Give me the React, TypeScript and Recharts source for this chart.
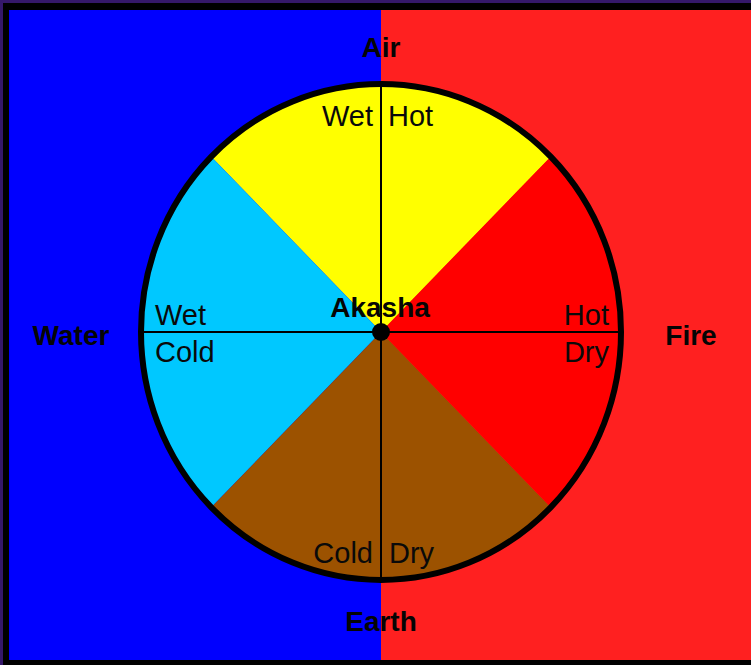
import React from 'react';
import { PieChart, Pie, Cell } from 'recharts';

// Four classical elements, each taking an equal quarter of the wheel
const elements = ['Air', 'Water', 'Earth', 'Fire'];
const shares = [1, 1, 1, 1];
const sliceColors = ['#ffff00', '#00c8ff', '#9c5200', '#ff0000'];

// qualities shown inside the wheel
const qualityLabels = ['Wet', 'Hot', 'Wet', 'Cold', 'Hot', 'Dry', 'Cold', 'Dry'];
const centerLabel = 'Akasha';

const data = elements.map((name, i) => ({ name, value: shares[i] }));

const W = 751;
const H = 665;
const CX = 381;
const CY = 332;
const RX = 240;
const RY = 248;

const FONT = '"Liberation Sans", Arial, sans-serif';

export default function App() {
  const bold = { fontFamily: FONT, fontWeight: 700, fontSize: 28, fill: '#050505' } as const;
  const reg = { fontFamily: FONT, fontWeight: 400, fontSize: 29, fill: '#0a0a0a' } as const;
  return (
    <div style={{ position: 'absolute', left: 0, top: 0, width: W, height: H, background: '#35186a', overflow: 'hidden' }}>
      <div style={{ position: 'absolute', left: 3, top: 3, right: 0, bottom: 0, background: '#000' }} />
      <div style={{ position: 'absolute', left: 9, top: 10, width: CX - 9, height: 650, background: '#0000ff' }} />
      <div style={{ position: 'absolute', left: CX, top: 10, width: W - CX, height: 650, background: '#ff2020' }} />
      <div
        style={{
          position: 'absolute',
          left: 0,
          top: 0,
          width: W,
          height: H,
          transform: `scale(1, ${RY / RX})`,
          transformOrigin: `${CX}px ${CY}px`,
        }}
      >
        <PieChart width={W} height={H} margin={{ top: 0, right: 0, bottom: 0, left: 0 }}>
          <Pie
            data={data}
            dataKey="value"
            nameKey="name"
            cx={CX}
            cy={CY}
            innerRadius={0}
            outerRadius={RX}
            startAngle={45}
            endAngle={405}
            stroke="none"
            isAnimationActive={false}
          >
            {data.map((d, i) => (
              <Cell key={d.name} fill={sliceColors[i]} />
            ))}
          </Pie>
        </PieChart>
      </div>
      <svg width={W} height={H} style={{ position: 'absolute', left: 0, top: 0 }}>
        <line x1={CX - RX} y1={CY} x2={CX + RX} y2={CY} stroke="#000" strokeWidth={2} />
        <line x1={CX} y1={CY - RY} x2={CX} y2={CY + RY} stroke="#000" strokeWidth={2} />
        <ellipse cx={CX} cy={CY} rx={RX} ry={RY} fill="none" stroke="#000" strokeWidth={6} />
        <circle cx={CX} cy={CY} r={9} fill="#000" />

        <text x={CX} y={57} textAnchor="middle" style={bold}>{elements[0]}</text>
        <text x={71} y={345} textAnchor="middle" style={bold}>{elements[1]}</text>
        <text x={CX} y={631} textAnchor="middle" style={bold}>{elements[2]}</text>
        <text x={691} y={345} textAnchor="middle" style={bold}>{elements[3]}</text>

        <text x={373} y={126} textAnchor="end" style={reg}>{qualityLabels[0]}</text>
        <text x={388} y={126} textAnchor="start" style={reg}>{qualityLabels[1]}</text>
        <text x={155} y={325} textAnchor="start" style={reg}>{qualityLabels[2]}</text>
        <text x={155} y={362} textAnchor="start" style={reg}>{qualityLabels[3]}</text>
        <text x={609} y={325} textAnchor="end" style={reg}>{qualityLabels[4]}</text>
        <text x={609} y={362} textAnchor="end" style={reg}>{qualityLabels[5]}</text>
        <text x={373} y={563} textAnchor="end" style={reg}>{qualityLabels[6]}</text>
        <text x={389} y={563} textAnchor="start" style={reg}>{qualityLabels[7]}</text>

        <text x={380} y={317} textAnchor="middle" style={bold}>{centerLabel}</text>
      </svg>
    </div>
  );
}
